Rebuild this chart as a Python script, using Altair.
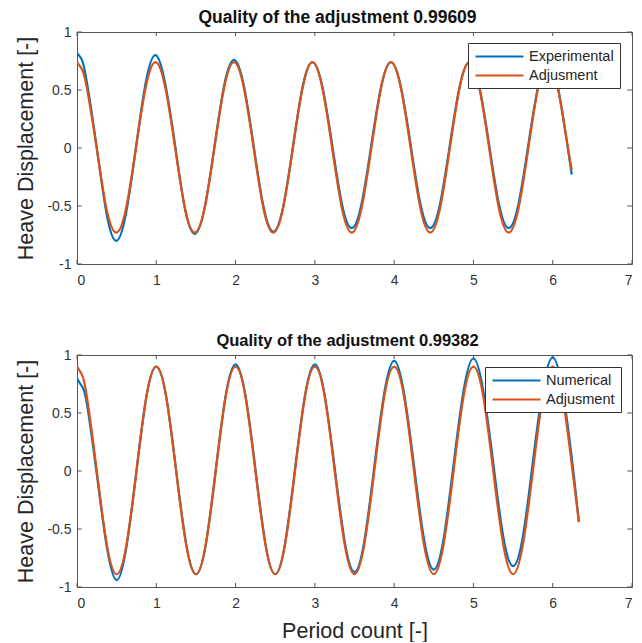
import altair as alt
import pandas as pd

# ---------------- data ----------------
top_x = [0, 0.062, 0.124, 0.248, 0.371, 0.495, 0.619, 0.743, 0.866,
         0.99, 1.114, 1.238, 1.361, 1.485, 1.609, 1.733, 1.856,
         1.98, 2.104, 2.228, 2.351, 2.475, 2.599, 2.723, 2.846,
         2.97, 3.094, 3.218, 3.341, 3.465, 3.589, 3.713, 3.836,
         3.96, 4.084, 4.208, 4.331, 4.455, 4.579, 4.703, 4.826,
         4.95, 5.074, 5.198, 5.321, 5.445, 5.569, 5.693, 5.816,
         5.94, 6.064, 6.188, 6.24]
top_experimental = [0.82, 0.76, 0.57, 0.01, -0.56, -0.80, -0.56, 0.00, 0.56,
                    0.80, 0.55, 0.02, -0.52, -0.74, -0.52, 0.01, 0.54,
                    0.76, 0.54, 0.02, -0.50, -0.72, -0.51, 0.01, 0.53,
                    0.74, 0.53, 0.03, -0.48, -0.69, -0.48, 0.03, 0.53,
                    0.74, 0.53, 0.03, -0.48, -0.69, -0.48, 0.03, 0.53,
                    0.74, 0.53, 0.03, -0.48, -0.69, -0.48, 0.03, 0.53,
                    0.74, 0.53, 0.01, -0.23]
top_adjustment = [0.74, 0.68, 0.52, 0.00, -0.52, -0.73, -0.52, 0.00, 0.52,
                  0.74, 0.52, 0.00, -0.52, -0.73, -0.52, 0.00, 0.52,
                  0.74, 0.52, 0.00, -0.52, -0.73, -0.52, 0.00, 0.52,
                  0.74, 0.52, 0.00, -0.52, -0.73, -0.52, 0.00, 0.52,
                  0.74, 0.52, 0.00, -0.52, -0.73, -0.52, 0.00, 0.52,
                  0.74, 0.52, 0.00, -0.52, -0.73, -0.52, 0.00, 0.52,
                  0.74, 0.52, 0.02, -0.19]

bot_x = [0, 0.0625, 0.125, 0.25, 0.375, 0.5, 0.625, 0.75, 0.875,
         1.0, 1.125, 1.25, 1.375, 1.5, 1.625, 1.75, 1.875,
         2.0, 2.125, 2.25, 2.375, 2.5, 2.625, 2.75, 2.875,
         3.0, 3.125, 3.25, 3.375, 3.5, 3.625, 3.75, 3.875,
         4.0, 4.125, 4.25, 4.375, 4.5, 4.625, 4.75, 4.875,
         5.0, 5.125, 5.25, 5.375, 5.5, 5.625, 5.75, 5.875,
         6.0, 6.125, 6.25, 6.33]
bot_numerical = [0.80, 0.73, 0.58, -0.03, -0.65, -0.94, -0.65, 0.00, 0.64,
                 0.90, 0.64, 0.01, -0.62, -0.89, -0.63, 0.01, 0.65,
                 0.92, 0.65, 0.02, -0.62, -0.89, -0.62, 0.02, 0.65,
                 0.92, 0.65, 0.03, -0.60, -0.87, -0.60, 0.04, 0.67,
                 0.95, 0.67, 0.05, -0.58, -0.85, -0.58, 0.06, 0.69,
                 0.97, 0.69, 0.07, -0.56, -0.82, -0.56, 0.08, 0.70,
                 0.98, 0.69, 0.06, -0.44]
bot_adjustment = [0.90, 0.83, 0.64, 0.00, -0.63, -0.89, -0.63, 0.00, 0.64,
                  0.90, 0.64, 0.00, -0.63, -0.89, -0.63, 0.00, 0.64,
                  0.90, 0.64, 0.00, -0.63, -0.89, -0.63, 0.00, 0.64,
                  0.90, 0.64, 0.00, -0.63, -0.89, -0.63, 0.00, 0.64,
                  0.90, 0.64, 0.00, -0.63, -0.89, -0.63, 0.00, 0.64,
                  0.90, 0.64, 0.00, -0.63, -0.89, -0.63, 0.00, 0.64,
                  0.90, 0.64, 0.00, -0.44]

x_ticks = [0, 1, 2, 3, 4, 5, 6, 7]
y_ticks = [-1, -0.5, 0, 0.5, 1]
titles = ["Quality of the adjustment 0.99609", "Quality of the adjustment 0.99382"]
series_top = ["Experimental", "Adjusment"]
series_bot = ["Numerical", "Adjusment"]
colors = ["#0072BD", "#D95319"]

FONT = "Liberation Sans"
W, H = 555, 232


def panel(xs, y1, y2, names, title, legend_x, legend_y, xtitle,
          title_offset, title_size, title_dx):
    df = pd.DataFrame({
        "x": xs + xs,
        "y": y1 + y2,
        "s": [names[0]] * len(xs) + [names[1]] * len(xs),
        "o": list(range(len(xs))) * 2,
    })
    xscale = alt.Scale(domain=[0, 7], nice=False)
    yscale = alt.Scale(domain=[-1, 1], nice=False)
    xaxis = alt.Axis(values=x_ticks, ticks=False, domain=False, grid=False,
                     labelExpr="toString(datum.value)",
                     labelFontSize=14, labelColor="#333333", labelFont=FONT,
                     labelPadding=9, title=xtitle, titleFont=FONT,
                     titleFontSize=21.5, titleFontWeight="normal",
                     titleColor="#262626", titlePadding=10)
    yaxis = alt.Axis(values=y_ticks, ticks=False, domain=False, grid=False,
                     labelExpr="toString(datum.value)",
                     labelFontSize=14, labelColor="#333333", labelFont=FONT,
                     labelPadding=6, title="Heave Displacement [-]",
                     titleFont=FONT, titleFontSize=21.5,
                     titleFontWeight="normal", titleColor="#262626",
                     titlePadding=9)
    lines = alt.Chart(df).mark_line(strokeWidth=2.2, interpolate="natural", clip=True).encode(
        x=alt.X("x:Q", scale=xscale, axis=xaxis),
        y=alt.Y("y:Q", scale=yscale, axis=yaxis),
        color=alt.Color("s:N", scale=alt.Scale(domain=names, range=colors),
                        legend=alt.Legend(title=None, orient="none",
                                          legendX=legend_x, legendY=legend_y,
                                          symbolType="M-1,0H7",
                                          symbolSize=144,
                                          symbolStrokeWidth=2.2,
                                          labelFont=FONT, labelFontSize=14.5,
                                          labelColor="#262626",
                                          strokeColor="#333333",
                                          fillColor="white",
                                          padding=6, rowPadding=4,
                                          labelOffset=40)),
        order="o:Q",
    )
    tdf = pd.DataFrame({"t": x_ticks})
    ydf = pd.DataFrame({"t": y_ticks})
    tick_style = dict(color="#555555", strokeWidth=1)
    xt_bot = alt.Chart(tdf).mark_rule(**tick_style).encode(
        x=alt.X("t:Q", scale=xscale), y=alt.datum(-1), y2=alt.datum(-0.965))
    xt_top = alt.Chart(tdf).mark_rule(**tick_style).encode(
        x=alt.X("t:Q", scale=xscale), y=alt.datum(1), y2=alt.datum(0.965))
    yt_left = alt.Chart(ydf).mark_rule(**tick_style).encode(
        y=alt.Y("t:Q", scale=yscale), x=alt.datum(0), x2=alt.datum(0.06))
    yt_right = alt.Chart(ydf).mark_rule(**tick_style).encode(
        y=alt.Y("t:Q", scale=yscale), x=alt.datum(7), x2=alt.datum(6.94))
    return alt.layer(xt_bot, xt_top, yt_left, yt_right, lines).properties(
        width=W, height=H,
        title=alt.TitleParams(title, font=FONT, fontSize=title_size,
                              fontWeight="bold", color="#111111",
                              offset=title_offset, dx=title_dx),
    )


top = panel(top_x, top_experimental, top_adjustment, series_top, titles[0],
            391, 11, None, -1, 17.5, -17)
bot = panel(bot_x, bot_numerical, bot_adjustment, series_bot, titles[1],
            408, 12, "Period count [-]", -1, 16.5, -7)

chart = alt.vconcat(top, bot, spacing=44).properties(
    padding={"left": 7, "top": 0, "right": 0, "bottom": 0}
).configure_view(stroke="#555555", strokeWidth=1).resolve_scale(color="independent")

chart.save("out.html", embed_options={"renderer": "svg", "actions": False})
